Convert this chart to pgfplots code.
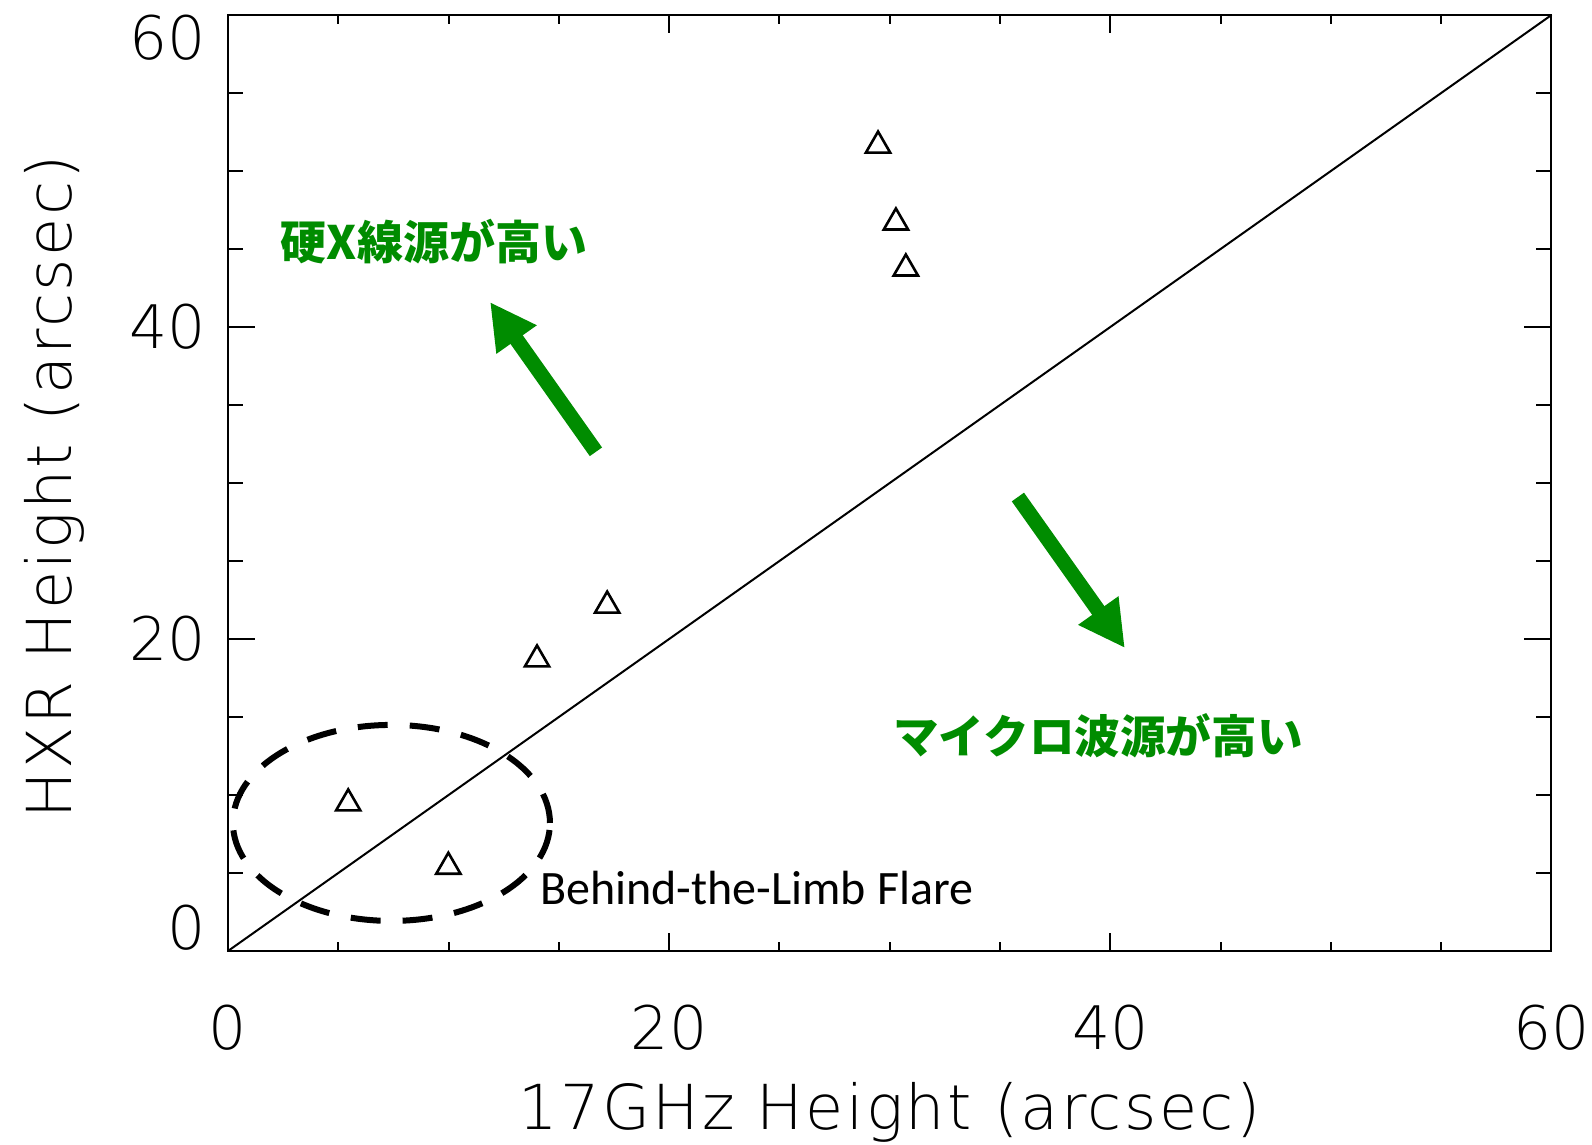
\documentclass[border=0pt]{standalone}
\usepackage{fontspec}
\usepackage{pgfplots}
\pgfplotsset{compat=1.18}
\usetikzlibrary{arrows.meta}
\newfontfamily\idlfont{DejaVu Sans ExtraLight}
\newfontfamily\idllabelfont{DejaVu Sans ExtraLight}[LetterSpace=4]
\newfontfamily\cjkfont{Noto Sans CJK JP}
\newfontfamily\carlitofont{Carlito}
\definecolor{arrgreen}{RGB}{0,140,0}
\begin{document}
\begin{tikzpicture}
\useasboundingbox (-114pt,-97pt) rectangle (682pt,475.5pt);
\begin{axis}[
 scale only axis, width=661.75pt, height=468pt,
 xmin=0,xmax=60,ymin=0,ymax=60,
 axis line style={line width=1pt},
 xtick={0,20,40,60}, ytick={0,20,40,60},
 minor x tick num=3, minor y tick num=3,
 xticklabels={0,20,40,60},
 yticklabels={\raisebox{11.5pt}[\height][\depth]{0},20,40,\raisebox{-11.5pt}[\height][\depth]{60}},
 tick style={black, line width=1pt},
 xtick style={/pgfplots/major tick length=9pt,/pgfplots/minor tick length=4.5pt},
 ytick style={/pgfplots/major tick length=13.5pt,/pgfplots/minor tick length=7.5pt},
 tick align=inside,
 /pgf/number format/assume math mode=true,
 ticklabel style={font=\idlfont\fontsize{30}{36}\selectfont},
 xticklabel style={anchor=north, inner sep=0pt, yshift=-27pt},
 yticklabel style={anchor=east, inner sep=0pt, xshift=-11pt},
 xlabel={17GHz Height (arcsec)}, ylabel={HXR Height (arcsec)},
 label style={font=\idllabelfont\fontsize{31}{37}\selectfont},
 xlabel style={at={(axis description cs:0.5,-0.1902)}, anchor=base, inner sep=0pt},
 ylabel style={at={(axis description cs:-0.1179,0.496)}, anchor=base, inner sep=0pt},
 clip=false,
]
\addplot[black, line width=1pt, no marks] coordinates {(0,0) (60,60)};
\addplot[only marks, mark=triangle, mark size=7pt, mark options={line width=1.3pt, black, fill=none}] coordinates {
 (29.47,51.63) (30.28,46.70) (30.73,43.75) (17.19,22.14) (14.01,18.69) (5.45,9.46) (9.99,5.40)
};
\draw[black, dash pattern=on 15pt off 11pt, line width=3pt] (axis cs:7.41,8.21) ellipse [x radius=79.25pt, y radius=49pt];
\draw[arrgreen, line width=7.5pt, -{Triangle[length=23pt,width=23pt]}] (axis cs:16.68,32.0) -- (axis cs:11.88,41.6);
\draw[arrgreen, line width=7.5pt, -{Triangle[length=23pt,width=23pt]}] (axis cs:35.81,29.10) -- (axis cs:40.66,19.42);
\node[font=\cjkfont\bfseries\fontsize{23}{27}\selectfont, text=arrgreen, inner sep=0pt] at (axis cs:9.34,45.45) {硬X線源が高い};
\node[font=\cjkfont\bfseries\fontsize{22.8}{27}\selectfont, text=arrgreen, inner sep=0pt] at (axis cs:39.44,13.78) {マイクロ波源が高い};
\node[font=\carlitofont\fontsize{24}{29}\selectfont, anchor=base west, inner sep=0pt] at (axis cs:14.14,3.01) {Behind-the-Limb Flare};
\end{axis}
\end{tikzpicture}
\end{document}
